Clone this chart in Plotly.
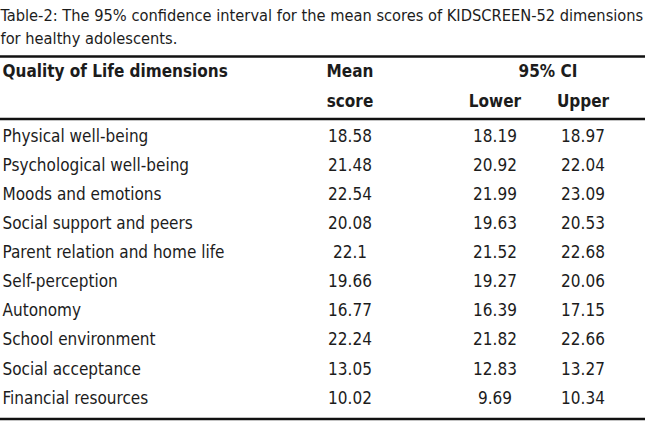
import plotly.graph_objects as go

caption_lines = [
    "Table-2: The 95% confidence interval for the mean scores of KIDSCREEN-52 dimensions",
    "for healthy adolescents.",
]
dimensions = [
    "Physical well-being",
    "Psychological well-being",
    "Moods and emotions",
    "Social support and peers",
    "Parent relation and home life",
    "Self-perception",
    "Autonomy",
    "School environment",
    "Social acceptance",
    "Financial resources",
]
mean_score = ["18.58", "21.48", "22.54", "20.08", "22.1", "19.66", "16.77", "22.24", "13.05", "10.02"]
ci_lower = ["18.19", "20.92", "21.99", "19.63", "21.52", "19.27", "16.39", "21.82", "12.83", "9.69"]
ci_upper = ["18.97", "22.04", "23.09", "20.53", "22.68", "20.06", "17.15", "22.66", "13.27", "10.34"]
header_row1 = ["Quality of Life dimensions", "Mean", "95% CI"]
header_row2 = ["score", "Lower", "Upper"]

W, H = 650, 427
FONT = "DejaVu Sans Condensed, Liberation Sans Narrow, sans-serif"
COL = "#1c1c1c"
FS = 17
FS_CAP = 16.3

x_caption = 0.5
x_label = 2.5
x_mean = 350
x_lower = 495
x_upper = 583
x_ci = 548

row_y0 = 137.5
row_step = 29.1
rows_y = [row_y0 + i * row_step for i in range(len(dimensions))]

fig = go.Figure()

def text_trace(xs, ys, texts, pos, size=FS):
    return go.Scatter(
        x=xs, y=ys, mode="text", text=texts, textposition=pos,
        textfont=dict(family=FONT, size=size, color=COL),
        hoverinfo="skip", showlegend=False, cliponaxis=False)

# caption
fig.add_trace(text_trace([x_caption, x_caption], [16.5, 40], caption_lines, "middle right", FS_CAP))

# headers
fig.add_trace(text_trace([x_label], [73], ["<b>" + header_row1[0] + "</b>"], "middle right"))
fig.add_trace(text_trace([x_mean, x_ci], [73, 73],
                         ["<b>" + t + "</b>" for t in header_row1[1:]], "middle center"))
fig.add_trace(text_trace([x_mean, x_lower, x_upper], [103] * 3,
                         ["<b>" + t + "</b>" for t in header_row2], "middle center"))

# body
fig.add_trace(text_trace([x_label] * len(dimensions), rows_y, dimensions, "middle right"))
for xc, vals in [(x_mean, mean_score), (x_lower, ci_lower), (x_upper, ci_upper)]:
    fig.add_trace(text_trace([xc] * len(vals), rows_y, vals, "middle center"))

# rules
for yy in [56.5, 119, 419]:
    fig.add_shape(type="line", x0=0, x1=645, y0=yy, y1=yy, xref="x", yref="y",
                  line=dict(color="#111111", width=2.7))

fig.update_layout(
    width=W, height=H, margin=dict(l=0, r=0, t=0, b=0),
    paper_bgcolor="white", plot_bgcolor="white",
    xaxis=dict(range=[0, W], visible=False, fixedrange=True),
    yaxis=dict(range=[H, 0], visible=False, fixedrange=True),
)
fig.write_html("out.html", config={"displayModeBar": False, "staticPlot": True},
               post_script="document.body.style.margin='0';")
